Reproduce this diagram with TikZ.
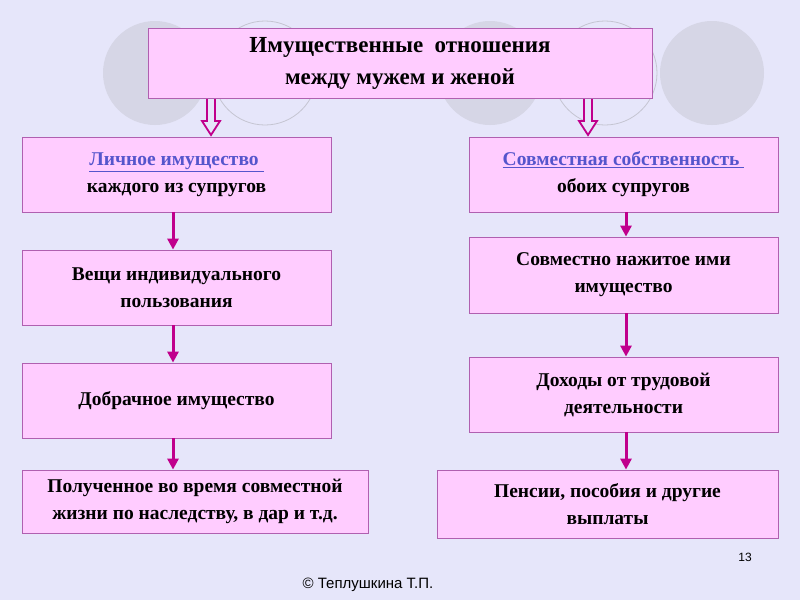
\documentclass[tikz,border=0pt]{standalone}
\usepackage{fontspec}
\setmainfont{Liberation Serif}
\newfontfamily\foot{Liberation Sans}
\usetikzlibrary{arrows.meta}
\definecolor{bg}{HTML}{E6E6FA}
\definecolor{circ}{HTML}{D6D6E6}
\definecolor{boxf}{HTML}{FFCCFF}
\definecolor{boxd}{HTML}{B060B0}
\definecolor{arr}{HTML}{C0008C}
\definecolor{lnk}{HTML}{5555CC}
\newcommand{\lnkt}[1]{\textcolor{lnk}{\underline{#1}}}
\begin{document}
\begin{tikzpicture}[x=1pt,y=-1pt,
  bx/.style={draw=boxd,fill=boxf,line width=0.8pt,font=\bfseries\fontsize{19.5}{27}\selectfont,align=center,inner sep=0pt},
  ar/.style={-{Triangle[length=11pt,width=11pt]},draw=arr,line width=3pt}]
\fill[bg] (0,0) rectangle (800,600);
\useasboundingbox (0,0) rectangle (800,600);
\foreach \x in {155,490,712} \fill[circ] (\x,73) circle (52);
\foreach \x in {265,605} \draw[circ!80!gray,line width=0.8pt] (\x,73) circle (52);
\node[bx,minimum width=504,minimum height=70,font=\bfseries\fontsize{23}{32}\selectfont] (top) at (400,63) {Имущественные\ \ отношения\\между мужем и женой};
\node[bx,minimum width=309,minimum height=75] (l1) at (176.5,174.5) {\lnkt{Личное имущество }\\каждого из супругов};
\node[bx,minimum width=309,minimum height=75] (r1) at (623.5,174.5) {\lnkt{Совместная собственность }\\обоих супругов};
\node[bx,minimum width=309,minimum height=75] (l2) at (176.5,287.5) {Вещи индивидуального\\пользования};
\node[bx,minimum width=309,minimum height=76] (r2) at (623.5,275) {Совместно нажитое ими\\имущество};
\node[bx,minimum width=309,minimum height=75] (l3) at (176.5,400.5) {Добрачное имущество};
\node[bx,minimum width=309,minimum height=75] (r3) at (623.5,394.5) {Доходы от трудовой\\деятельности};
\node[bx,minimum width=346,minimum height=63] (l4) at (195,501.5) {Полученное во время совместной\\жизни по наследству, в дар и т.д.};
\node[bx,minimum width=341,minimum height=68] (r4) at (607.5,504) {Пенсии, пособия и другие\\выплаты};
\foreach \xx in {211,588}{
  \draw[arr,line width=1.8pt,fill=bg] (\xx-4,99) -- (\xx-4,121) -- (\xx-9,121) -- (\xx,135) -- (\xx+9,121) -- (\xx+4,121) -- (\xx+4,99);
}
\draw[ar] (l1.south -| 173,0) -- (l2.north -| 173,0);
\draw[ar] (l2.south -| 173,0) -- (l3.north -| 173,0);
\draw[ar] (l3.south -| 173,0) -- (l4.north -| 173,0);
\draw[ar] (r1.south -| 626,0) -- (r2.north -| 626,0);
\draw[ar] (r2.south -| 626,0) -- (r3.north -| 626,0);
\draw[ar] (r3.south -| 626,0) -- (r4.north -| 626,0);
\node[font=\foot\fontsize{12}{14}\selectfont] (pg) at (745,557) {13};
\node[font=\foot\fontsize{15}{17}\selectfont] (cp) at (368,585) {© Теплушкина Т.П.};
\end{tikzpicture}
\end{document}
